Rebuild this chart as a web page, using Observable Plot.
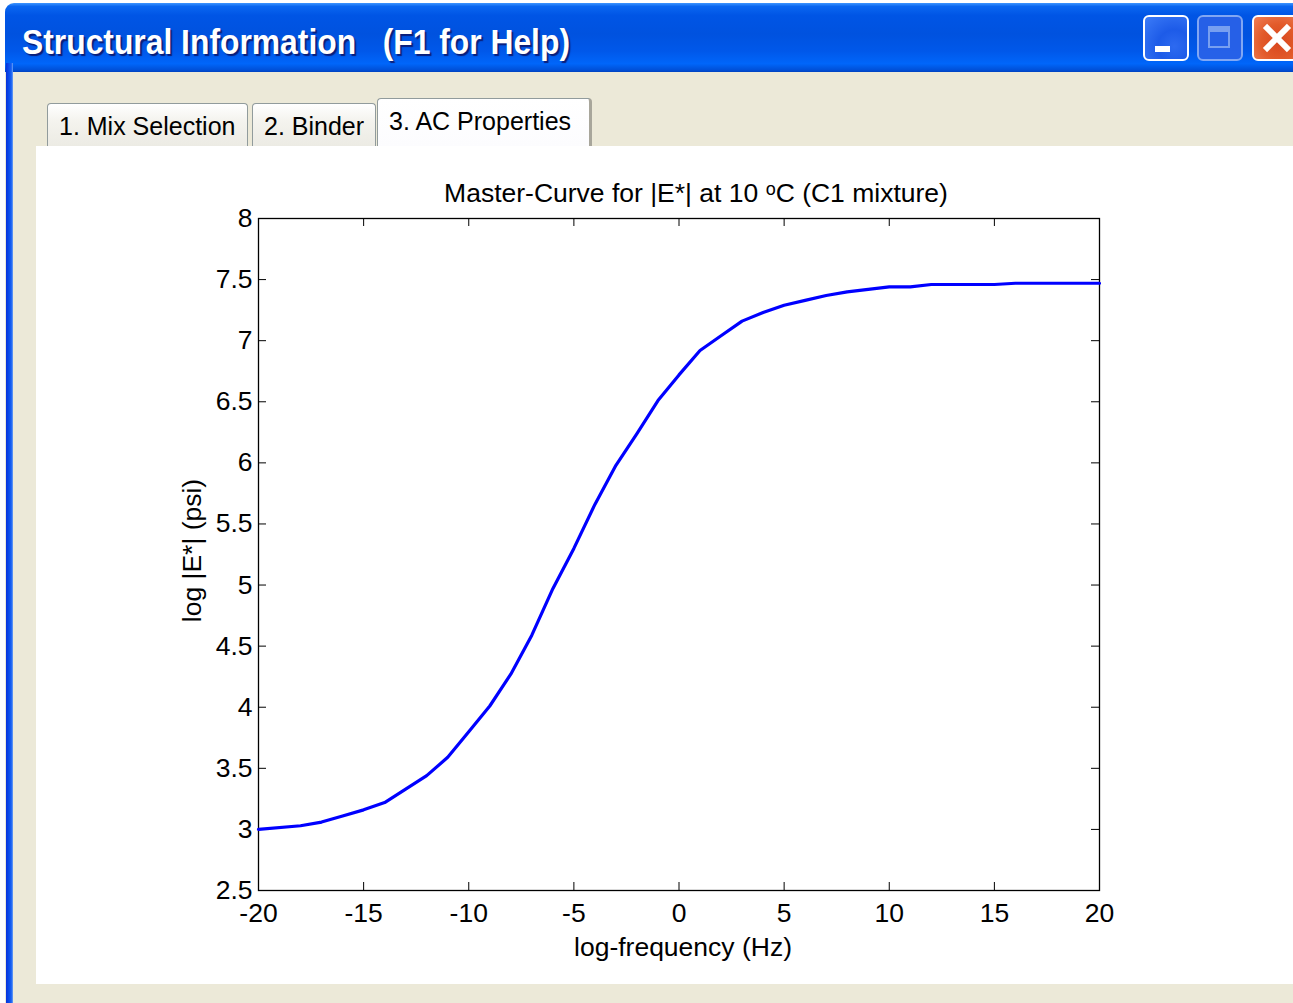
<!DOCTYPE html>
<html>
<head>
<meta charset="utf-8">
<script src="https://cdn.jsdelivr.net/npm/d3@7"></script>
<script src="https://cdn.jsdelivr.net/npm/@observablehq/plot@0.6"></script>
<style>
  html, body { margin: 0; padding: 0; background: #ffffff; }
  body { width: 1293px; height: 1003px; position: relative; overflow: hidden; font-family: "Liberation Sans", Arial, sans-serif; }
  #win { position: absolute; left: 5px; top: 3px; width: 1310px; height: 1020px; background: #ECE9D8;
         border-radius: 9px 9px 0 0; overflow: hidden; }
  #titlebar { position: absolute; left: 0; top: 0; right: 0; height: 69px;
     background: linear-gradient(to bottom, #3D95FF 0%, #0A66F0 5%, #0055E5 18%, #0052DF 45%, #0058EA 70%, #0066FA 88%, #0050D8 97%, #0042C0 100%); }
  #wintitle { position: absolute; left: 17px; top: 18px; color: #fff; font-weight: bold; font-size: 35px; line-height: 42px;
     white-space: pre; text-shadow: 2px 2px 1px #0A1E7A; transform-origin: left center; display: inline-block; }
  #leftborder { position: absolute; left: 1px; top: 60px; width: 7px; bottom: 0;
     background: linear-gradient(to right, #0831D9 0%, #0A4BEA 40%, #1660F2 75%, #6FA2F5 100%); }
  .btn { position: absolute; top: 12px; width: 46px; height: 46px; border-radius: 6px; border: 2px solid #fff; box-sizing: border-box; }
  #bmin { left: 1138px; background: radial-gradient(circle at 70% 70%, #2D6AF0 0%, #1D5BE8 40%, #3C7CF8 100%); }
  #bmin::after { content: ""; position: absolute; left: 10px; top: 29px; width: 15px; height: 6px; background: #fff; }
  #bmax { left: 1192px; background: #2B62E8; border-color: #8FB0F5; opacity: 0.9; }
  #bmax::after { content: ""; position: absolute; left: 9px; top: 9px; width: 22px; height: 22px; border: 2px solid #86A8F2; border-top-width: 6px; box-sizing: border-box; }
  #bclose { left: 1247px; background: radial-gradient(circle at 60% 60%, #D8461E 0%, #E25A2A 50%, #F07E55 100%); }
  #bclose::before, #bclose::after { content: ""; position: absolute; left: 20px; top: 4px; width: 6px; height: 34px; background: #fff; }
  #bclose::before { transform: rotate(45deg); }
  #bclose::after { transform: rotate(-45deg); }
  .tab { position: absolute; box-sizing: border-box; border: 1px solid #919B9C; border-bottom: none; border-radius: 4px 4px 0 0;
         background: linear-gradient(to bottom, #FFFFFF 0%, #F4F3EE 40%, #ECEBE4 100%); font-size: 25px; color: #000;
         padding-left: 11px; white-space: pre; }
  #tab3 { background: linear-gradient(to bottom, #FFFFFF 0%, #FCFCFE 100%); border-right: 3px solid #A8A69B; }
  #panel { position: absolute; left: 36px; top: 146px; width: 1257px; height: 838px; background: #fff; }
</style>
</head>
<body>
<div id="win">
  <div id="titlebar"><span id="wintitle">Structural Information   (F1 for Help)</span></div>
  <div id="leftborder"></div>
  <div class="btn" id="bmin"></div>
  <div class="btn" id="bmax"></div>
  <div class="btn" id="bclose"></div>
</div>
<div class="tab" style="left:47px; top:103px; width:201px; height:43px; line-height:44px;">1. Mix Selection</div>
<div class="tab" style="left:252px; top:103px; width:124px; height:43px; line-height:44px;">2. Binder</div>
<div class="tab" id="tab3" style="left:377px; top:98px; width:215px; height:48px; line-height:44px;">3. AC Properties</div>
<div id="panel"></div>
<script>
// Master curve of the dynamic modulus, log |E*| against log reduced frequency
const logFrequency = [-20, -18, -17, -16, -15, -14, -13, -12, -11, -10, -9, -8, -7, -6, -5, -4, -3, -2, -1,
                      0, 1, 2, 3, 4, 5, 6, 7, 8, 9, 10, 11, 12, 15, 16, 20];
const logModulus = [3.00, 3.03, 3.06, 3.11, 3.16, 3.22, 3.33, 3.44, 3.59, 3.80, 4.01, 4.27, 4.59, 4.97, 5.30, 5.66, 5.98, 6.24, 6.51,
                    6.72, 6.92, 7.04, 7.16, 7.23, 7.29, 7.33, 7.37, 7.40, 7.42, 7.44, 7.44, 7.46, 7.46, 7.47, 7.47];
const xTicks = [-20, -15, -10, -5, 0, 5, 10, 15, 20];
const yTicks = [2.5, 3, 3.5, 4, 4.5, 5, 5.5, 6, 6.5, 7, 7.5, 8];
const chartTitle = "Master-Curve for |E*| at 10 \u1D52C (C1 mixture)";
const xLabel = "log-frequency (Hz)";
const yLabel = "log |E*| (psi)";

const curve = logFrequency.map((f, i) => ({f, e: logModulus[i]}));

const W = 1257, H = 838;
const mL = 222, mR = 194, mT = 72, mB = 94;
const innerW = W - mL - mR, innerH = H - mT - mB;
const tickLen = 8;
const fs = 26.5;
const fmt = d => String(d);

const chart = Plot.plot({
  width: W, height: H,
  marginLeft: mL, marginRight: mR, marginTop: mT, marginBottom: mB,
  style: {fontFamily: "'Liberation Sans', Arial, sans-serif", fontSize: `${fs}px`, color: "black", background: "white", overflow: "visible"},
  x: {domain: [-20, 20]},
  y: {domain: [2.5, 8]},
  marks: [
    // inward ticks on all four sides of the box
    Plot.ruleX(xTicks, {x: d => d, insetTop: innerH - tickLen, stroke: "black"}),
    Plot.ruleX(xTicks, {x: d => d, insetBottom: innerH - tickLen, stroke: "black"}),
    Plot.ruleY(yTicks, {y: d => d, insetRight: innerW - tickLen, stroke: "black"}),
    Plot.ruleY(yTicks, {y: d => d, insetLeft: innerW - tickLen, stroke: "black"}),
    Plot.frame({stroke: "black", strokeWidth: 1.3}),
    Plot.axisX(xTicks, {tickSize: 0, tickPadding: 13, tickFormat: fmt, label: null, fontSize: fs}),
    Plot.axisY(yTicks, {tickSize: 0, tickPadding: 6, tickFormat: fmt, label: null, fontSize: fs}),
    Plot.line(curve, {x: "f", y: "e", stroke: "#0000FF", strokeWidth: 3.2}),
    Plot.text([chartTitle], {frameAnchor: "top", lineAnchor: "middle", textAnchor: "middle", dy: -25, dx: 17, fontSize: fs}),
    Plot.text([xLabel], {frameAnchor: "bottom", lineAnchor: "middle", textAnchor: "middle", dy: 57, dx: 4, fontSize: fs}),
    Plot.text([yLabel], {frameAnchor: "left", lineAnchor: "middle", textAnchor: "middle", rotate: -90, dx: -66, dy: -4, fontSize: fs})
  ]
});
document.getElementById("panel").appendChild(chart);

// fit the caption of the window to its title bar width
const wt = document.getElementById("wintitle");
const s = 548 / wt.getBoundingClientRect().width;
wt.style.transform = `scaleX(${s})`;
</script>
</body>
</html>
